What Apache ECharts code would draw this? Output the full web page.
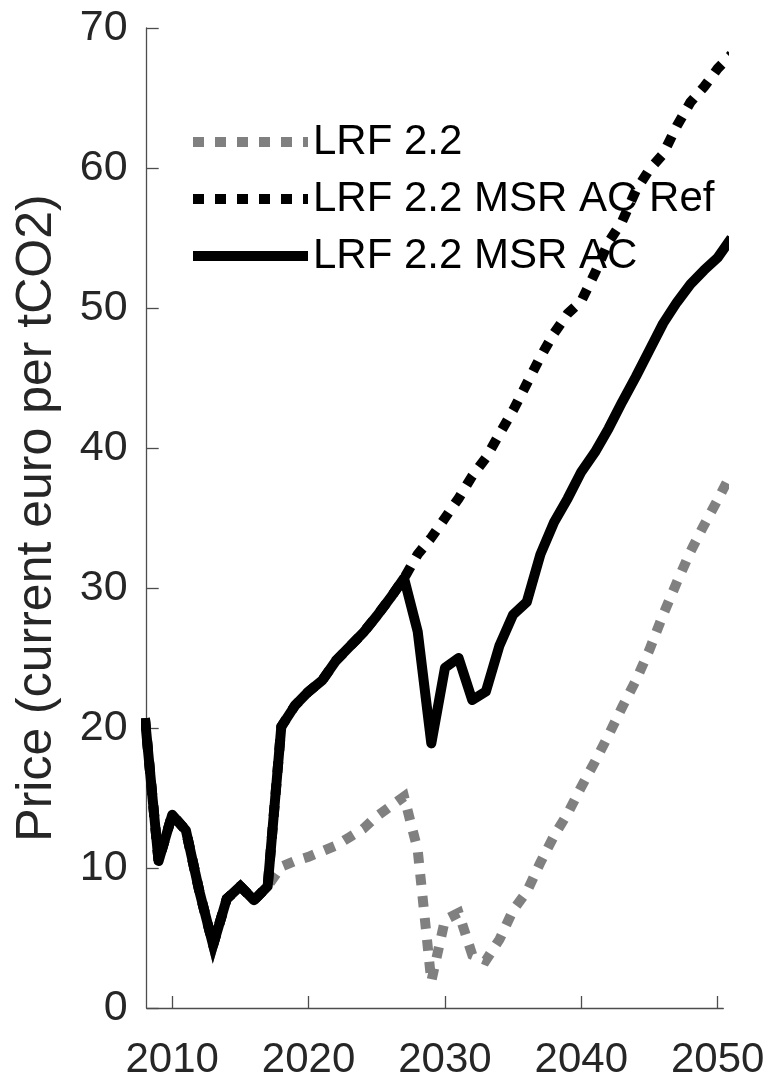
<!DOCTYPE html>
<html>
<head>
<meta charset="utf-8">
<script src="https://cdn.jsdelivr.net/npm/echarts@6/dist/echarts.min.js"></script>
<style>
html,body{margin:0;padding:0;background:#fff;}
#chart{width:769px;height:1075px;}
</style>
</head>
<body>
<div id="chart"></div>
<script>
const years = [2008,2009,2010,2011,2012,2013,2014,2015,2016,2017,2018,2019,2020,2021,2022,2023,2024,2025,2026,2027,2028,2029,2030,2031,2032,2033,2034,2035,2036,2037,2038,2039,2040,2041,2042,2043,2044,2045,2046,2047,2048,2049,2050,2051];

const lrf22 = [20.7,10.5,13.8,12.7,8.3,4.5,7.8,8.7,7.7,8.7,10.1,10.5,10.8,11.2,11.6,12.2,12.8,13.7,14.4,15.1,11.3,1.9,6.3,6.8,3.8,3.4,4.9,7.0,8.3,10.4,12.3,13.9,15.8,17.6,19.5,21.5,23.4,25.6,28.1,30.4,32.6,34.5,36.3,38.2];

const lrf22MsrAcRef = [20.7,10.5,13.8,12.7,8.3,4.5,7.8,8.7,7.7,8.7,20.1,21.6,22.6,23.4,24.8,25.8,26.8,28.0,29.3,30.7,32.4,33.6,35.0,36.4,38.0,39.3,41.0,42.7,44.6,46.5,48.2,49.6,50.5,52.5,54.7,56.2,58.4,59.9,61.0,63.0,64.7,65.8,67.1,68.1];

const lrf22MsrAc = [20.7,10.5,13.8,12.7,8.3,4.5,7.8,8.7,7.7,8.7,20.1,21.6,22.6,23.4,24.8,25.8,26.8,28.0,29.3,30.7,26.9,18.9,24.3,25.0,22.0,22.6,25.9,28.1,29.0,32.4,34.7,36.4,38.3,39.7,41.4,43.3,45.1,47.0,48.9,50.4,51.7,52.7,53.6,55.0];

const xTickValues = [2010,2020,2030,2040,2050];
const seriesNames = ['LRF 2.2','LRF 2.2 MSR AC Ref','LRF 2.2 MSR AC'];

function pairs(vals){ return years.map((y,i)=>[y, vals[i]]); }

const FONT = "'Liberation Sans', Arial, Helvetica, sans-serif";
const chart = echarts.init(document.getElementById('chart'), null, {renderer:'canvas'});
chart.setOption({
  animation:false,
  backgroundColor:'#ffffff',
  grid:{left:146.7, top:28, right:45.7, bottom:67, containLabel:false, outerBoundsMode:'none'},
  legend:{
    show:true, orient:'vertical', left:188, top:121, padding:0,
    itemWidth:115, itemHeight:10, itemGap:15,
    data:seriesNames,
    textStyle:{fontFamily:FONT, fontSize:42, color:'#000', padding:0},
    itemStyle:{opacity:0},
    lineStyle:{width:'inherit', type:'inherit', cap:'butt'}
  },
  xAxis:{
    type:'value', min:2008.13, max:2050.41,
    axisLine:{show:true, lineStyle:{color:'#4d4d4d', width:1.3}},
    axisTick:{show:true, inside:true, length:12, lineStyle:{color:'#4d4d4d', width:1.3}, customValues:xTickValues},
    axisLabel:{show:true, fontFamily:FONT, fontSize:42, color:'#262626', margin:31, customValues:xTickValues, formatter:v=>String(v)},
    splitLine:{show:false}
  },
  yAxis:{
    type:'value', min:0, max:70, interval:10,
    name:'Price (current euro per tCO2)', nameLocation:'middle', nameRotate:90, nameGap:84,
    nameTextStyle:{fontFamily:FONT, fontSize:50, color:'#262626'},
    axisLine:{show:true, lineStyle:{color:'#4d4d4d', width:1.3}},
    axisTick:{show:true, inside:true, length:12, lineStyle:{color:'#4d4d4d', width:1.3}},
    axisLabel:{show:true, fontFamily:FONT, fontSize:43, color:'#262626', margin:19},
    splitLine:{show:false}
  },
  series:[
    {name:seriesNames[0], type:'line', data:pairs(lrf22), symbol:'none', showSymbol:false, clip:true,
     lineStyle:{color:'#808080', width:10, type:[11,11], cap:'butt', join:'miter'}, itemStyle:{color:'#808080'}},
    {name:seriesNames[1], type:'line', data:pairs(lrf22MsrAcRef), symbol:'none', showSymbol:false, clip:true,
     lineStyle:{color:'#000000', width:10, type:[11,11], cap:'butt', join:'miter'}, itemStyle:{color:'#000000'}},
    {name:seriesNames[2], type:'line', data:pairs(lrf22MsrAc), symbol:'none', showSymbol:false, clip:true,
     lineStyle:{color:'#000000', width:10, type:'solid', cap:'butt', join:'round'}, itemStyle:{color:'#000000'}}
  ]
});
</script>
</body>
</html>
